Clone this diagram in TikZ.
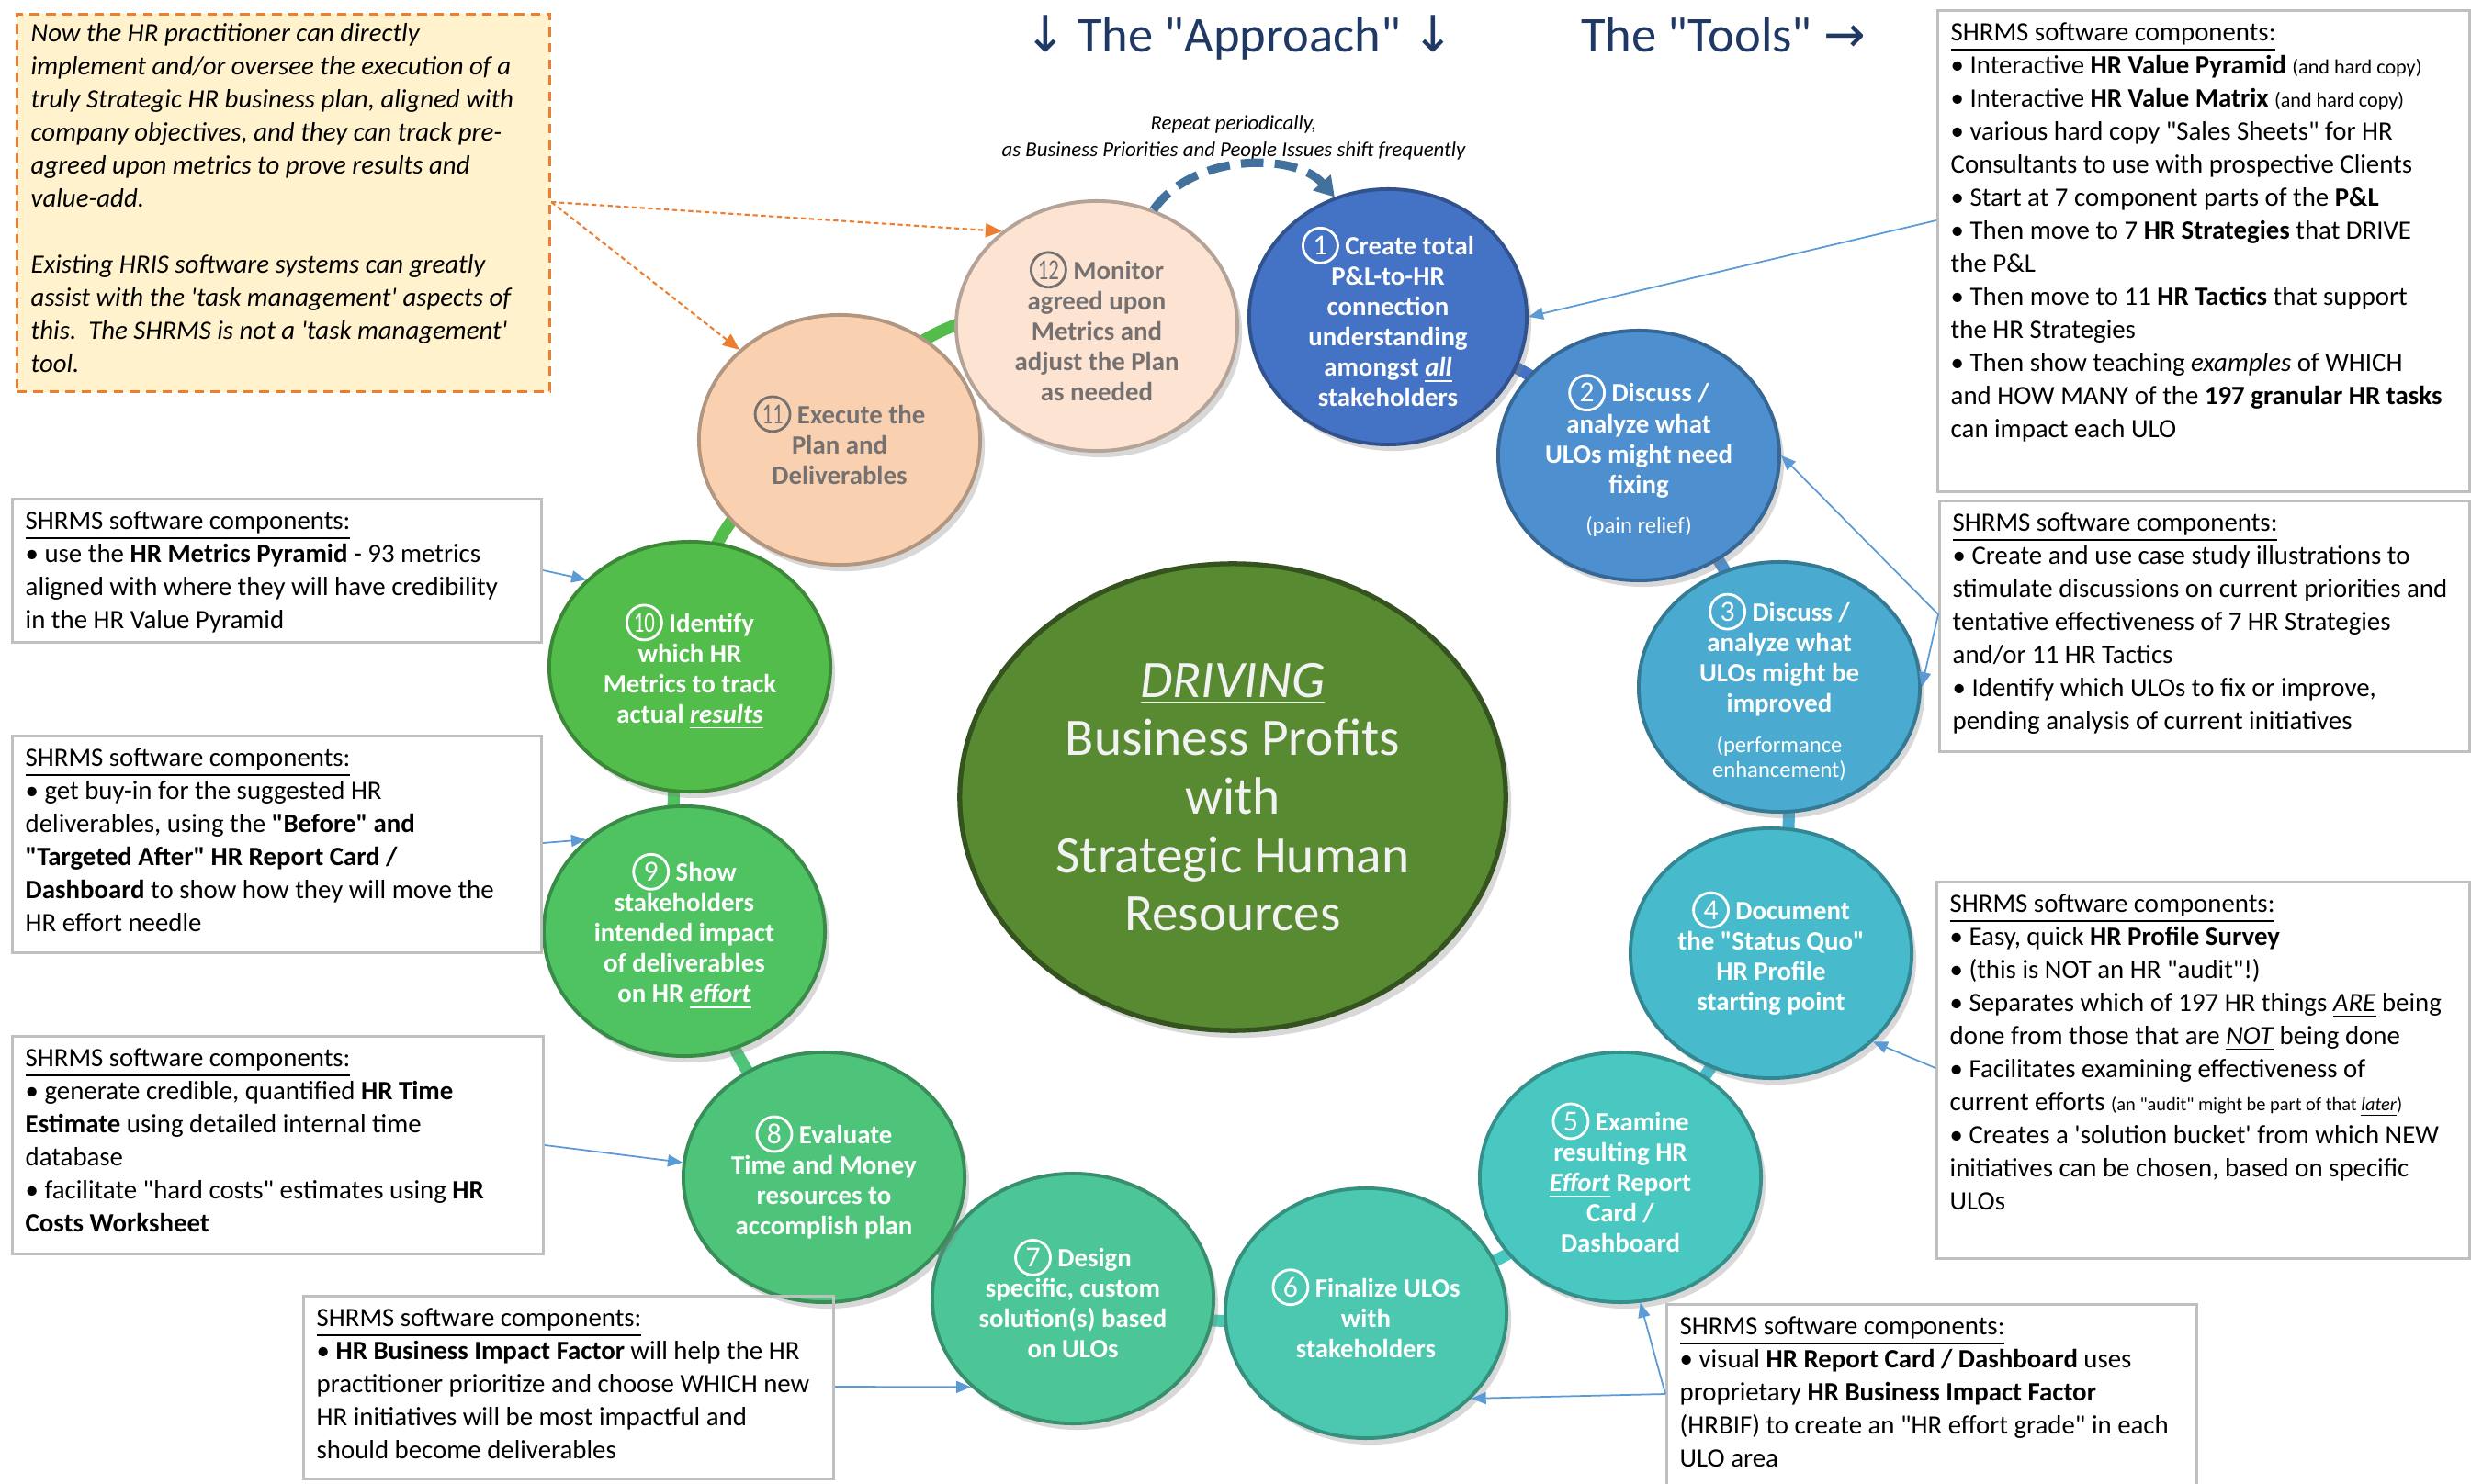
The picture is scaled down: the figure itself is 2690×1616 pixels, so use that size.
\documentclass[tikz,border=0pt]{standalone}
\usepackage{fontspec}
\usepackage{graphicx}
\setmainfont{Carlito}[Ligatures=TeXOff]
\newfontfamily\arrowfont{DejaVu Sans}
\usetikzlibrary{shapes.geometric,arrows.meta,backgrounds,shadows,calc}

\definecolor{stepc1}{HTML}{4472C4}
\definecolor{stepc2}{HTML}{4D8FCF}
\definecolor{stepc3}{HTML}{4AAACF}
\definecolor{stepc4}{HTML}{47BBCC}
\definecolor{stepc5}{HTML}{49C8C1}
\definecolor{stepc6}{HTML}{4BC8AF}
\definecolor{stepc7}{HTML}{4DC697}
\definecolor{stepc8}{HTML}{4EC47B}
\definecolor{stepc9}{HTML}{4FC262}
\definecolor{stepc10}{HTML}{52BD4B}
\definecolor{stepc11}{HTML}{F9D1B1}
\definecolor{stepc12}{HTML}{FCE3D2}
\definecolor{stepgray}{HTML}{767171}
\definecolor{coregreen}{HTML}{588A32}
\definecolor{corewhite}{HTML}{F2F2F2}
\definecolor{navy}{HTML}{1F3864}
\definecolor{toolgray}{HTML}{BFBFBF}
\definecolor{linkblue}{HTML}{5B9BD5}
\definecolor{noteorange}{HTML}{ED7D31}
\definecolor{notefill}{HTML}{FFF2CC}
\definecolor{repeatblue}{HTML}{41719C}

\newcommand{\stepno}[2][white]{\tikz[baseline=(stepn.base)]\node[circle,draw=#1,text=#1,fill=none,line width=0.8pt,inner sep=0pt,minimum size=10.8pt,font=\mdseries\fontsize{9}{9}\selectfont](stepn){\ifnum#2>9 \scalebox{0.72}[1]{#2}\else#2\fi};}
\newcommand{\bul}{\textbullet~}
\newcommand{\smalltxt}[1]{{\fontsize{6.3}{7}\selectfont #1}}

\tikzset{
  stepnode/.style={ellipse, minimum width=3.06cm, minimum height=2.72cm, inner sep=-8pt,
    align=center, fill=#1, draw=#1!72!black, line width=1.1pt, text=white,
    font=\bfseries\fontsize{8.2}{9.4}\selectfont,
    drop shadow={shadow xshift=0.5mm, shadow yshift=-0.7mm, opacity=0.3}},
  band/.style={draw=#1, line width=3.7pt},
  toolframe/.style={draw=toolgray, line width=0.8pt, inner sep=0pt, anchor=north west},
  tooltext/.style={inner sep=0pt, anchor=north west, align=left, font=\fontsize{8.2}{10.24}\selectfont},
  toolarrow/.style={draw=linkblue, line width=0.5pt, -{Triangle[length=1.6mm,width=1.3mm]}},
  notearrow/.style={draw=noteorange, line width=0.6pt, dash pattern=on 1.5pt off 1pt, -{Triangle[length=1.8mm,width=1.5mm]}},
  repeatarrow/.style={draw=repeatblue, line width=2.6pt, dash pattern=on 7pt off 3.5pt, -{Triangle[length=6pt,width=7pt]}}
}

\begin{document}
\begin{tikzpicture}[x=0.01cm,y=-0.01cm]
\useasboundingbox (0,0) rectangle (2690,1616);
\begin{scope}[on background layer]
\fill[white] (0,0) rectangle (2690,1616);
\end{scope}

\node[font=\fontsize{15.5}{18}\selectfont, text=navy, anchor=base] (approach) at (1349,57) {{\arrowfont ↓} The "Approach" {\arrowfont ↓}};
\node[font=\fontsize{15.5}{18}\selectfont, text=navy, anchor=base] (tools) at (1876,57) {The "Tools" {\arrowfont →}};
\node[font=\itshape\fontsize{6.5}{8.3}\selectfont, align=center] (repeatnote) at (1343,150) {Repeat periodically,\\as Business Priorities and People Issues shift frequently};

\node[stepnode=stepc1, minimum width=3.02cm, minimum height=2.78cm] (c1) at (1511,345) {\stepno{1} Create total\\P\&L-to-HR\\connection\\understanding\\amongst \underline{\textit{all}}\\stakeholders};
\node[stepnode=stepc2] (c2) at (1784,496) {\stepno{2} Discuss /\\analyze what\\ULOs might need\\fixing\\[3pt]{\mdseries\fontsize{7}{8}\selectfont (pain relief)}};
\node[stepnode=stepc3] (c3) at (1937,748) {\stepno{3} Discuss /\\analyze what\\ULOs might be\\improved\\[3pt]{\mdseries\fontsize{7}{8}\selectfont (performance}\\[-1.5pt]{\mdseries\fontsize{7}{8}\selectfont enhancement)}};
\node[stepnode=stepc4] (c4) at (1928,1038) {\stepno{4} Document\\the "Status Quo"\\HR Profile\\starting point};
\node[stepnode=stepc5] (c5) at (1764,1282) {\stepno{5} Examine\\resulting HR\\\underline{\textit{Effort}} Report\\Card /\\Dashboard};
\node[stepnode=stepc6] (c6) at (1487,1430) {\stepno{6} Finalize ULOs\\with\\stakeholders};
\node[stepnode=stepc7] (c7) at (1168,1414) {\stepno{7} Design\\specific, custom\\solution(s) based\\on ULOs};
\node[stepnode=stepc8] (c8) at (897,1282) {\stepno{8} Evaluate\\Time and Money\\resources to\\accomplish plan};
\node[stepnode=stepc9] (c9) at (745,1014) {\stepno{9} Show\\stakeholders\\intended impact\\of deliverables\\on HR \underline{\textit{effort}}};
\node[stepnode=stepc10] (c10) at (751,726) {\stepno{10} Identify\\which HR\\Metrics to track\\actual \underline{\textit{results}}};
\node[stepnode=stepc11, text=stepgray] (c11) at (914,479) {\stepno[stepgray]{11} Execute the\\Plan and\\Deliverables};
\node[stepnode=stepc12, text=stepgray] (c12) at (1194,355) {\stepno[stepgray]{12} Monitor\\agreed upon\\Metrics and\\adjust the Plan\\as needed};

\node[ellipse, minimum width=5.94cm, minimum height=5.08cm, inner sep=-8pt, fill=coregreen, draw=coregreen!60!black, line width=1.5pt, text=corewhite, align=center, font=\fontsize{16.3}{18.1}\selectfont, drop shadow={shadow xshift=0.6mm, shadow yshift=-0.8mm, opacity=0.3}] (core) at (1342,868) {\textit{\underline{DRIVING}}\\Business Profits\\with\\Strategic Human\\Resources};

\begin{scope}[on background layer]
\foreach \a/\b/\bend in {1/2/12,2/3/10,3/4/10,4/5/10,5/6/10,6/7/10,7/8/10,8/9/10,9/10/10,10/11/35}
  \draw[band=stepc\a] (c\a.center) to[bend left=\bend] (c\b.center);
\draw[band=stepc10] (c11.center) to[bend left=45] (c12.center);
\end{scope}

\draw[repeatarrow] (c12.64) .. controls (1300,166) and (1410,166) .. (c1.114);

\node[toolframe, fill=notefill, draw=noteorange, dash pattern=on 3pt off 2pt, minimum width=5.80cm, minimum height=4.11cm] (note) at (17,14) {};
\node[tooltext, font=\itshape\fontsize{8.2}{10.24}\selectfont] (notetxt) at ($(note.north west)+(16,11)$) {Now the HR practitioner can directly\\implement and/or oversee the execution of a\\truly Strategic HR business plan, aligned with\\company objectives, and they can track pre-\\agreed upon metrics to prove results and\\value-add.\\[10.24pt]Existing HRIS software systems can greatly\\assist with the 'task management' aspects of\\this.\ \ The SHRMS is not a 'task management'\\tool.};
\draw[notearrow] ($(note.north east)+(0,206)$) -- (c12.135);
\draw[notearrow] ($(note.north east)+(0,206)$) -- (c11.138);

\node[toolframe, minimum width=5.79cm, minimum height=5.24cm] (toolsA) at (2108,10) {};
\node[tooltext] (toolsAtxt) at ($(toolsA.north west)+(15,14)$) {\underline{SHRMS software components:}\\\bul Interactive \textbf{HR Value Pyramid} \smalltxt{(and hard copy)}\\\bul Interactive \textbf{HR Value Matrix} \smalltxt{(and hard copy)}\\\bul various hard copy "Sales Sheets" for HR\\Consultants to use with prospective Clients\\\bul Start at 7 component parts of the \textbf{P\&L}\\\bul Then move to 7 \textbf{HR Strategies} that DRIVE\\the P\&L\\\bul Then move to 11 \textbf{HR Tactics} that support\\the HR Strategies\\\bul Then show teaching \textit{examples} of WHICH\\and HOW MANY of the \textbf{197 granular HR tasks}\\can impact each ULO};
\draw[toolarrow] ($(toolsA.north west)+(0,230)$) -- (c1.east);

\node[toolframe, minimum width=5.77cm, minimum height=2.73cm] (toolsB) at (2110,544) {};
\node[tooltext] (toolsBtxt) at ($(toolsB.north west)+(15,14)$) {\underline{SHRMS software components:}\\\bul Create and use case study illustrations to\\stimulate discussions on current priorities and\\tentative effectiveness of 7 HR Strategies\\and/or 11 HR Tactics\\\bul Identify which ULOs to fix or improve,\\pending analysis of current initiatives};
\draw[toolarrow] ($(toolsB.north west)+(0,125)$) -- (c2.east);
\draw[toolarrow] ($(toolsB.north west)+(0,125)$) -- (c3.east);

\node[toolframe, minimum width=5.80cm, minimum height=4.10cm] (toolsC) at (2107,959) {};
\node[tooltext] (toolsCtxt) at ($(toolsC.north west)+(15,14)$) {\underline{SHRMS software components:}\\\bul Easy, quick \textbf{HR Profile Survey}\\\bul (this is NOT an HR "audit"!)\\\bul Separates which of 197 HR things \underline{\textit{ARE}} being\\done from those that are \underline{\textit{NOT}} being done\\\bul Facilitates examining effectiveness of\\current efforts {\fontsize{5.8}{7}\selectfont(an "audit" might be part of that \underline{\textit{later}})}\\\bul Creates a 'solution bucket' from which NEW\\initiatives can be chosen, based on specific\\ULOs};
\draw[toolarrow] ($(toolsC.north west)+(0,204)$) -- (c4.-41);

\node[toolframe, minimum width=5.77cm, minimum height=2.10cm] (toolsD) at (1813,1419) {};
\node[tooltext] (toolsDtxt) at ($(toolsD.north west)+(15,14)$) {\underline{SHRMS software components:}\\\bul visual \textbf{HR Report Card / Dashboard} uses\\proprietary \textbf{HR Business Impact Factor}\\(HRBIF) to create an "HR effort grade" in each\\ULO area};
\draw[toolarrow] ($(toolsD.north west)+(0,99)$) -- (c6.-39);
\draw[toolarrow] ($(toolsD.north west)+(0,99)$) -- (c5.-81);

\node[toolframe, minimum width=5.77cm, minimum height=1.99cm] (toolsE) at (329,1410) {};
\node[tooltext] (toolsEtxt) at ($(toolsE.north west)+(15,14)$) {\underline{SHRMS software components:}\\\bul \textbf{HR Business Impact Factor} will help the HR\\practitioner prioritize and choose WHICH new\\HR initiatives will be most impactful and\\should become deliverables};
\draw[toolarrow] ($(toolsE.north east)+(0,100)$) -- (c7.221);

\node[toolframe, minimum width=5.76cm, minimum height=1.56cm] (toolsF) at (12,542) {};
\node[tooltext] (toolsFtxt) at ($(toolsF.north west)+(15,14)$) {\underline{SHRMS software components:}\\\bul use the \textbf{HR Metrics Pyramid} - 93 metrics\\aligned with where they will have credibility\\in the HR Value Pyramid};
\draw[toolarrow] ($(toolsF.north east)+(0,79)$) -- (c10.140);

\node[toolframe, minimum width=5.76cm, minimum height=2.36cm] (toolsG) at (12,800) {};
\node[tooltext] (toolsGtxt) at ($(toolsG.north west)+(15,14)$) {\underline{SHRMS software components:}\\\bul get buy-in for the suggested HR\\deliverables, using the \textbf{"Before" and}\\\textbf{"Targeted After" HR Report Card /}\\\textbf{Dashboard} to show how they will move the\\HR effort needle};
\draw[toolarrow] ($(toolsG.north east)+(0,118)$) -- (c9.137);

\node[toolframe, minimum width=5.78cm, minimum height=2.37cm] (toolsH) at (12,1127) {};
\node[tooltext] (toolsHtxt) at ($(toolsH.north west)+(15,14)$) {\underline{SHRMS software components:}\\\bul generate credible, quantified \textbf{HR Time}\\\textbf{Estimate} using detailed internal time\\database\\\bul facilitate "hard costs" estimates using \textbf{HR}\\\textbf{Costs Worksheet}};
\draw[toolarrow] ($(toolsH.north east)+(0,120)$) -- (c8.174);
\end{tikzpicture}
\end{document}
